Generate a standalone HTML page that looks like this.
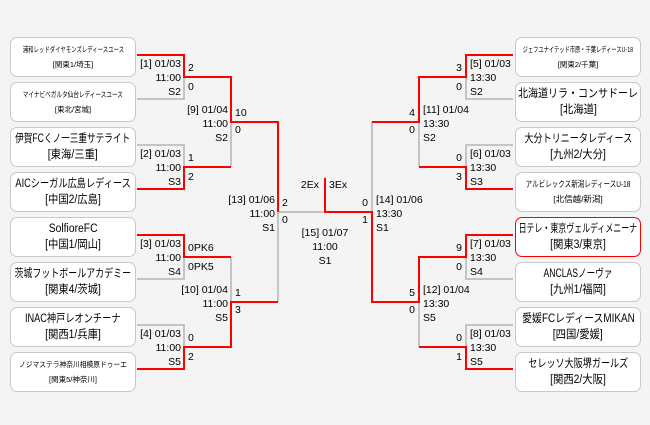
<!DOCTYPE html>
<html><head><meta charset="utf-8"><style>
body{margin:0;width:650px;height:425px;background:#f4f4f4;position:relative;overflow:hidden;font-family:"Liberation Sans","Noto Sans CJK JP",sans-serif;color:#000}
.b{position:absolute;width:124px;height:38px;background:#fff;border:1px solid #c8c8c8;border-radius:7px;text-align:center;display:flex;flex-direction:column;justify-content:center;align-items:center;line-height:16px;font-size:11.5px;white-space:nowrap}
.b span{display:inline-block;white-space:nowrap}
.s{font-size:7.5px;line-height:15px}
.t{position:absolute;font-size:10.5px;line-height:14px;white-space:nowrap}
.r{text-align:right}
svg{position:absolute;left:0;top:0}
</style></head><body>
<svg width="650" height="425">
<g fill="none" stroke-width="2">
<g stroke="#c4c4c4">
<polyline points="137,99 184,99 184,77"/>
<polyline points="137,145 184,145 184,167"/>
<polyline points="137,279 184,279 184,257"/>
<polyline points="137,325 184,325 184,347"/>
<polyline points="231,122 231,167"/>
<polyline points="231,257 231,302"/>
<polyline points="278,212 278,302"/>
<polyline points="278,212 325,212"/>
<polyline points="513,99 466,99 466,77"/>
<polyline points="513,145 466,145 466,167"/>
<polyline points="513,279 466,279 466,257"/>
<polyline points="513,325 466,325 466,347"/>
<polyline points="419,122 419,167"/>
<polyline points="419,302 419,347"/>
<polyline points="372,122 372,212"/>
</g>
<g stroke="#f00">
<polyline points="137,55 184,55 184,77 231,77 231,122 278,122 278,212"/>
<polyline points="137,189 184,189 184,167 231,167"/>
<polyline points="137,235 184,235 184,257 231,257"/>
<polyline points="137,369 184,369 184,347 231,347 231,302 278,302"/>
<polyline points="325,178 325,212 372,212 372,302 419,302 419,257 466,257 466,235 513,235"/>
<polyline points="513,55 466,55 466,77 419,77 419,122 372,122"/>
<polyline points="513,189 466,189 466,167 419,167"/>
<polyline points="513,369 466,369 466,347 419,347"/>
</g></g></svg>

<div class="b s" style="left:10px;top:37px"><span style="transform:scaleX(.72)">浦和レッドダイヤモンズレディースユース</span><span>[関東1/埼玉]</span></div>
<div class="b s" style="left:10px;top:82px"><span style="transform:scaleX(.75)">マイナビベガルタ仙台レディースユース</span><span>[東北/宮城]</span></div>
<div class="b" style="left:10px;top:127px"><span style="transform:scaleX(.75)">伊賀FCくノ一三重サテライト</span><span style="transform:scaleX(.9)">[東海/三重]</span></div>
<div class="b" style="left:10px;top:172px"><span style="transform:scaleX(.8)">AICシーガル広島レディース</span><span style="transform:scaleX(.9)">[中国2/広島]</span></div>
<div class="b" style="left:10px;top:217px"><span style="transform:scaleX(.9)">SolfioreFC</span><span style="transform:scaleX(.9)">[中国1/岡山]</span></div>
<div class="b" style="left:10px;top:262px"><span style="transform:scaleX(.78)">茨城フットボールアカデミー</span><span style="transform:scaleX(.9)">[関東4/茨城]</span></div>
<div class="b" style="left:10px;top:307px"><span style="transform:scaleX(.8)">INAC神戸レオンチーナ</span><span style="transform:scaleX(.9)">[関西1/兵庫]</span></div>
<div class="b s" style="left:10px;top:352px"><span style="transform:scaleX(.9)">ノジマステラ神奈川相模原ドゥーエ</span><span>[関東5/神奈川]</span></div>

<div class="b s" style="left:515px;top:37px"><span style="transform:scaleX(.7)">ジェフユナイテッド市原・千葉レディースU-18</span><span>[関東2/千葉]</span></div>
<div class="b" style="left:515px;top:82px"><span style="transform:scaleX(.87)">北海道リラ・コンサドーレ</span><span style="transform:scaleX(.9)">[北海道]</span></div>
<div class="b" style="left:515px;top:127px"><span style="transform:scaleX(.79)">大分トリニータレディース</span><span style="transform:scaleX(.9)">[九州2/大分]</span></div>
<div class="b s" style="left:515px;top:172px;font-size:8.5px"><span style="transform:scaleX(.77)">アルビレックス新潟レディースU-18</span><span>[北信越/新潟]</span></div>
<div class="b" style="left:515px;top:217px;border-color:#f00"><span style="transform:scaleX(.69)">日テレ・東京ヴェルディメニーナ</span><span style="transform:scaleX(.9)">[関東3/東京]</span></div>
<div class="b" style="left:515px;top:262px"><span style="transform:scaleX(.75)">ANCLASノーヴァ</span><span style="transform:scaleX(.9)">[九州1/福岡]</span></div>
<div class="b" style="left:515px;top:307px"><span style="transform:scaleX(.86)">愛媛FCレディースMIKAN</span><span style="transform:scaleX(.9)">[四国/愛媛]</span></div>
<div class="b" style="left:515px;top:352px"><span style="transform:scaleX(.79)">セレッソ大阪堺ガールズ</span><span style="transform:scaleX(.9)">[関西2/大阪]</span></div>

<div class="t r" style="right:469px;top:57px">[1] 01/03<br>11:00<br>S2</div>
<div class="t r" style="right:469px;top:147px">[2] 01/03<br>11:00<br>S3</div>
<div class="t r" style="right:469px;top:237px">[3] 01/03<br>11:00<br>S4</div>
<div class="t r" style="right:469px;top:327px">[4] 01/03<br>11:00<br>S5</div>
<div class="t r" style="right:422px;top:103px">[9] 01/04<br>11:00<br>S2</div>
<div class="t r" style="right:422px;top:283px">[10] 01/04<br>11:00<br>S5</div>
<div class="t r" style="right:375px;top:193px">[13] 01/06<br>11:00<br>S1</div>
<div class="t" style="left:188px;top:61px">2</div><div class="t" style="left:188px;top:80px">0</div>
<div class="t" style="left:188px;top:151px">1</div><div class="t" style="left:188px;top:170px">2</div>
<div class="t" style="left:188px;top:241px">0PK6</div><div class="t" style="left:188px;top:260px">0PK5</div>
<div class="t" style="left:188px;top:331px">0</div><div class="t" style="left:188px;top:350px">2</div>
<div class="t" style="left:235px;top:106px">10</div><div class="t" style="left:235px;top:123px">0</div>
<div class="t" style="left:235px;top:286px">1</div><div class="t" style="left:235px;top:303px">3</div>
<div class="t" style="left:282px;top:196px">2</div><div class="t" style="left:282px;top:213px">0</div>

<div class="t r" style="right:331px;top:178px">2Ex</div>
<div class="t" style="left:329px;top:178px">3Ex</div>
<div class="t" style="left:300px;top:226px;width:50px;text-align:center">[15] 01/07<br>11:00<br>S1</div>

<div class="t" style="left:470px;top:57px">[5] 01/03<br>13:30<br>S2</div>
<div class="t" style="left:470px;top:147px">[6] 01/03<br>13:30<br>S3</div>
<div class="t" style="left:470px;top:237px">[7] 01/03<br>13:30<br>S4</div>
<div class="t" style="left:470px;top:327px">[8] 01/03<br>13:30<br>S5</div>
<div class="t" style="left:423px;top:103px">[11] 01/04<br>13:30<br>S2</div>
<div class="t" style="left:423px;top:283px">[12] 01/04<br>13:30<br>S5</div>
<div class="t" style="left:376px;top:193px">[14] 01/06<br>13:30<br>S1</div>
<div class="t r" style="right:188px;top:61px">3</div><div class="t r" style="right:188px;top:80px">0</div>
<div class="t r" style="right:188px;top:151px">0</div><div class="t r" style="right:188px;top:170px">3</div>
<div class="t r" style="right:188px;top:241px">9</div><div class="t r" style="right:188px;top:260px">0</div>
<div class="t r" style="right:188px;top:331px">0</div><div class="t r" style="right:188px;top:350px">1</div>
<div class="t r" style="right:235px;top:106px">4</div><div class="t r" style="right:235px;top:123px">0</div>
<div class="t r" style="right:235px;top:286px">5</div><div class="t r" style="right:235px;top:303px">0</div>
<div class="t r" style="right:282px;top:196px">0</div><div class="t r" style="right:282px;top:213px">1</div>
</body></html>
